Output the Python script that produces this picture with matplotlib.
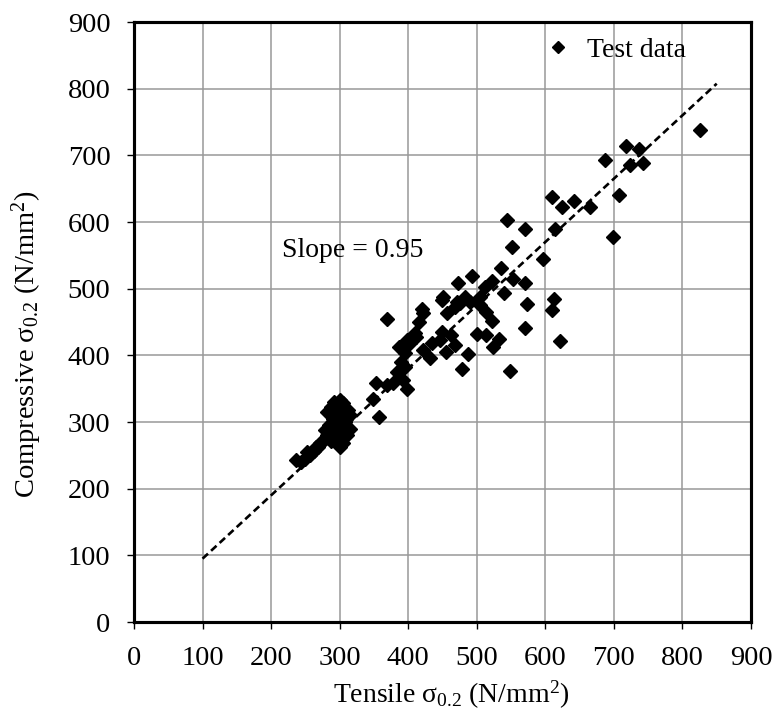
import numpy as np
import matplotlib
matplotlib.use('Agg')
import matplotlib.pyplot as plt

plt.rcParams['font.family'] = ['Liberation Serif', 'DejaVu Serif']
plt.rcParams['mathtext.fontset'] = 'custom'
plt.rcParams['mathtext.rm'] = 'Liberation Serif'
plt.rcParams['mathtext.default'] = 'regular'

# test data (N/mm2)
tensile = [826, 717, 736, 687, 723, 742, 708, 609, 624, 642, 665, 570, 614, 596, 698,
           570, 573, 612, 609, 570, 622,
           544, 552, 536, 553, 540, 522, 512, 493, 472, 450, 483, 471, 505, 420,
           369, 421, 415, 449, 456, 468, 476, 490, 505, 514, 522, 500, 514, 533, 524,
           548, 487, 479, 455, 468, 463, 449, 446, 434, 432, 422, 412, 403, 386, 395,
           398, 390, 383, 395, 393, 398, 378, 369, 353, 349, 358, 410,
           237, 252, 266,
           243, 250, 256, 262, 268, 272, 278, 282, 288, 292, 285, 290, 282, 288, 292,
           300, 305, 312, 315, 308, 315, 310, 305, 298, 300, 296, 302, 295, 300, 290, 278]
compressive = [738, 714, 709, 693, 685, 688, 641, 637, 623, 632, 623, 589, 589, 544, 577,
               508, 477, 484, 468, 441, 422,
               603, 563, 531, 515, 494, 511, 503, 519, 509, 487, 487, 480, 488, 470,
               454, 464, 450, 483, 463, 473, 478, 480, 475, 465, 452, 432, 430, 425, 412,
               377, 402, 380, 405, 415, 430, 435, 423, 418, 396, 408, 428, 418, 413, 403,
               423, 390, 375, 383, 363, 350, 358, 355, 358, 334, 307, 433,
               243, 255, 263,
               240, 245, 250, 256, 262, 268, 275, 280, 272, 285, 295, 305, 315, 322, 330,
               333, 328, 318, 310, 300, 290, 280, 268, 275, 290, 310, 318, 300, 262, 315, 288]

slope = 0.95
fit_x = np.array([100, 850])

W, H = 778, 719
fig = plt.figure(figsize=(W / 100, H / 100), dpi=100)
ax = fig.add_axes([134 / W, (H - 622) / H, 617 / W, 600 / H])

ax.plot(tensile, compressive, linestyle='', marker='D', color='black',
        markersize=7, label='Test data', zorder=3)
ax.plot(fit_x, slope * fit_x, linestyle=(0, (2.8, 1.6)), color='black', linewidth=1.9, zorder=2)
ax.text(216, 547, 'Slope = 0.95', fontsize=20, va='baseline', ha='left')

ax.set_xlim(0, 900)
ax.set_ylim(0, 900)
ax.set_xticks(np.arange(0, 901, 100))
ax.set_yticks(np.arange(0, 901, 100))
ax.grid(True, color='#999999', linewidth=1.1)
ax.set_axisbelow(True)
for s in ax.spines.values():
    s.set_linewidth(2.25)
ax.tick_params(direction='out', length=5, width=1, labelsize=20.5, pad=12)

# axis titles placed by hand
fig.text(451 / W, (H - 703) / H, 'Tensile σ$_{0.2}$ (N/mm$^2$)', fontsize=20,
         ha='center', va='baseline')
fig.text(35 / W, (H - 344) / H, 'Compressive σ$_{0.2}$ (N/mm$^2$)', fontsize=20.5,
         ha='center', va='baseline', rotation=90, rotation_mode='anchor')

ax.legend(loc='center left', frameon=False, fontsize=20, handlelength=2.0,
          handletextpad=0.05, markerscale=0.9, borderpad=0, borderaxespad=0,
          bbox_to_anchor=(530 / W, (H - 50) / H), bbox_transform=fig.transFigure)

fig.savefig('out.png', dpi=100)
